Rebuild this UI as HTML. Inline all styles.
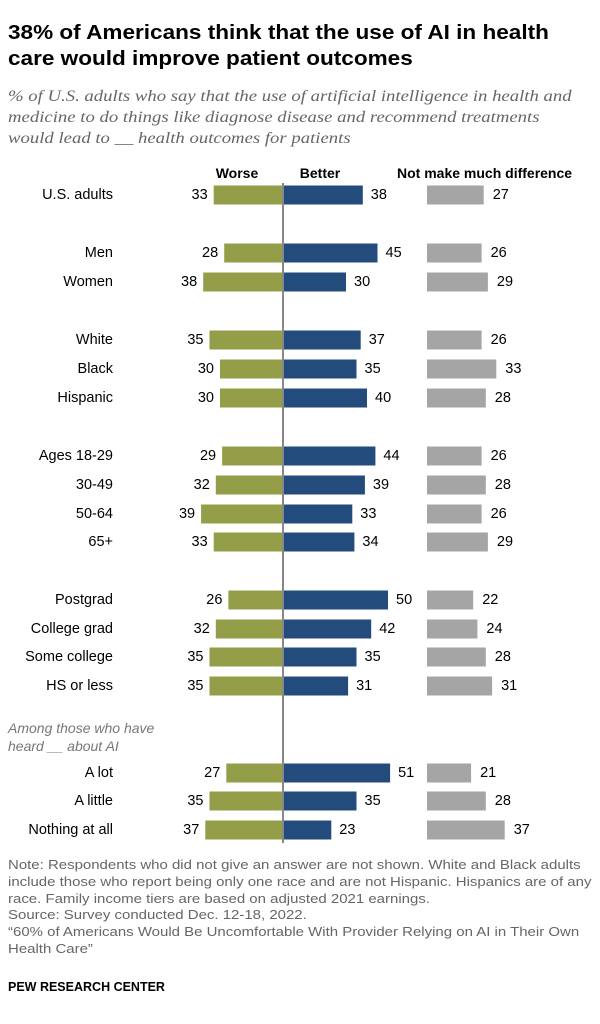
<!DOCTYPE html>
<html><head><meta charset="utf-8"><style>
body{margin:0;width:600px;height:1024px;background:#fff;font-family:"Liberation Sans",Arial,sans-serif;color:#000;position:relative;overflow:hidden}
.t{position:absolute;left:8px;top:20px;font-size:20.5px;font-weight:bold;line-height:26px;color:#000;white-space:nowrap;transform:scaleX(1.1);transform-origin:0 0}
.s{position:absolute;left:8px;top:86px;font-size:16px;font-style:italic;color:#666;line-height:21px;font-family:"Liberation Serif",serif;white-space:nowrap;transform:scaleX(1.17);transform-origin:0 0}
.n{position:absolute;left:8px;top:857px;font-size:12.8px;color:#666;line-height:16.8px;white-space:nowrap;transform:scaleX(1.17);transform-origin:0 0}
.f{position:absolute;left:8px;top:980px;font-size:12.5px;font-weight:bold;color:#000}
svg{position:absolute;left:0;top:0}
</style></head><body>
<div class="t">38% of Americans think that the use of AI in health<br>care would improve patient outcomes</div>
<div class="s">% of U.S. adults who say that the use of artificial intelligence in health and<br>medicine to do things like diagnose disease and recommend treatments<br>would lead to __ health outcomes for patients</div>
<svg id="c" width="600" height="1024"></svg>
<div class="n">Note: Respondents who did not give an answer are not shown. White and Black adults<br>include those who report being only one race and are not Hispanic. Hispanics are of any<br>race. Family income tiers are based on adjusted 2021 earnings.<br>Source: Survey conducted Dec. 12-18, 2022.<br>“60% of Americans Would Be Uncomfortable With Provider Relying on AI in Their Own<br>Health Care”</div>
<div class="f">PEW RESEARCH CENTER</div>
<script>
const categories=["U.S. adults","Men","Women","White","Black","Hispanic","Ages 18-29","30-49","50-64","65+","Postgrad","College grad","Some college","HS or less","A lot","A little","Nothing at all"];
const rowY=[195,253,282,340,369,398,456,485,514,542,600,629,657,686,773,801,830];
const worse=[33,28,38,35,30,30,29,32,39,33,26,32,35,35,27,35,37];
const better=[38,45,30,37,35,40,44,39,33,34,50,42,35,31,51,35,23];
const noDiff=[27,26,29,26,33,28,26,28,26,29,22,24,28,31,21,28,37];
const NS="http://www.w3.org/2000/svg",svg=document.getElementById('c');
const k=2.1,cx=283,gx=427,bh=19;
function el(t,a,txt){const e=document.createElementNS(NS,t);for(const q in a)e.setAttribute(q,a[q]);if(txt!=null)e.textContent=txt;svg.appendChild(e);return e;}
function T(x,y,s,anchor,extra){return el('text',Object.assign({x:x,y:y,'font-size':14.5,'text-anchor':anchor,'dominant-baseline':'central',fill:'#000','font-family':'Liberation Sans, Arial, sans-serif'},extra||{}),s);}
let h;
h=T(237,173,"Worse","middle",{'font-weight':'bold','font-size':14});
h=T(320,173,"Better","middle",{'font-weight':'bold','font-size':14});
h=T(397,173,"Not make much difference","start",{'font-weight':'bold','font-size':14});
h=T(8,728,"Among those who have","start",{'font-style':'italic',fill:'#777','font-size':14});
h=T(8,746,"heard __ about AI","start",{'font-style':'italic',fill:'#777','font-size':14});
categories.forEach((c,i)=>{
 const y=rowY[i];let e;
 e=T(113,y,c,"end");
 const w=worse[i]*k;
 e=el('rect',{x:cx-w,y:y-bh/2,width:w,height:bh,fill:'#949E48'});
 e=T(cx-w-6,y,worse[i],"end");
 const b=better[i]*k;
 e=el('rect',{x:cx,y:y-bh/2,width:b,height:bh,fill:'#234B7C'});
 e=T(cx+b+8,y,better[i],"start");
 const g=noDiff[i]*k;
 e=el('rect',{x:gx,y:y-bh/2,width:g,height:bh,fill:'#A5A5A5'});
 e=T(gx+g+9,y,noDiff[i],"start");
});
h=el('line',{x1:cx,x2:cx,y1:183,y2:843,stroke:'#888','stroke-width':2});
</script>
</body></html>
